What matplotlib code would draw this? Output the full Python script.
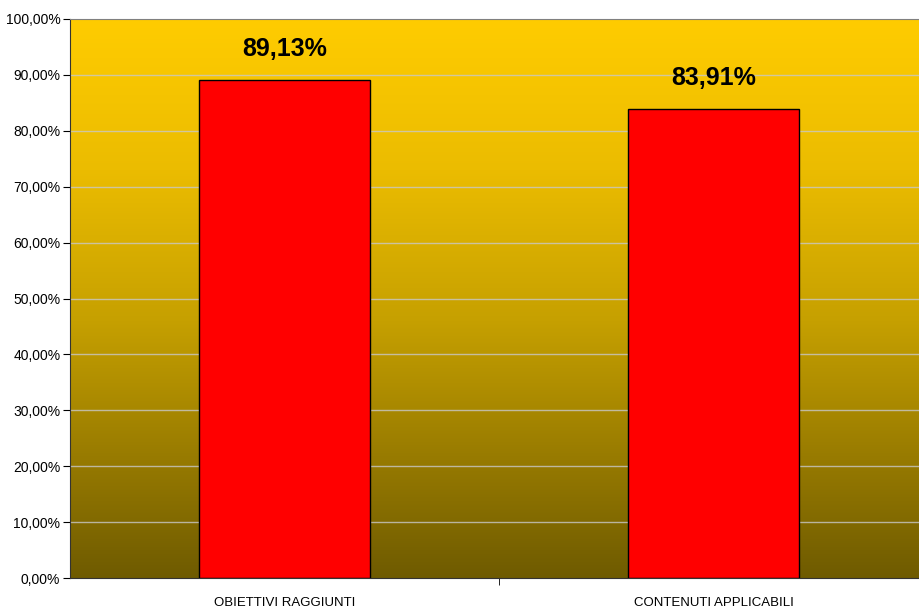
import numpy as np
import matplotlib.pyplot as plt
from matplotlib.colors import LinearSegmentedColormap

# chart data
categories = ['OBIETTIVI RAGGIUNTI', 'CONTENUTI APPLICABILI']
values = [89.13, 83.91]
yticks = [0, 10, 20, 30, 40, 50, 60, 70, 80, 90, 100]

plt.rcParams['font.family'] = ['Liberation Sans', 'DejaVu Sans']

fig = plt.figure(figsize=(9.2, 6.1), dpi=100)
ax = fig.add_axes([70 / 920, 32 / 610, 858 / 920, 559 / 610])

x = np.arange(len(categories))
ax.set_xlim(-0.5, len(categories) - 0.5)
ax.set_ylim(0, 100)

# yellow -> dark olive gradient background
cmap = LinearSegmentedColormap.from_list(
    'bg', [(0, '#6f5b00'), (0.19, '#937700'), (0.46, '#c6a000'),
           (0.73, '#ebbc00'), (1, '#ffcc00')])
grad = np.linspace(0, 1, 256).reshape(-1, 1)
ax.imshow(grad, cmap=cmap, aspect='auto', origin='lower',
          extent=[-0.5, len(categories) - 0.5, 0, 100], zorder=0)

for t in yticks[1:-1]:
    ax.axhline(t, color='#c8c8c8', lw=1, alpha=0.8, zorder=1)

ax.bar(x, values, width=0.4, color='#ff0000', edgecolor='black', lw=1, zorder=2)

for xi, v in zip(x, values):
    ax.annotate(f'{v:.2f}%'.replace('.', ','), (xi, v), xytext=(0, 31),
                textcoords='offset pixels', ha='center', va='center',
                fontsize=18, fontweight='bold', zorder=3)

ax.set_yticks(yticks)
ax.set_yticklabels([f'{t:.2f}%'.replace('.', ',') for t in yticks], fontsize=10)
ax.set_xticks(x)
ax.set_xticklabels(categories, fontsize=9.5)
ax.set_xticks([0.5], minor=True)
ax.tick_params(axis='x', which='major', length=0, pad=14)
ax.tick_params(axis='x', which='minor', length=5, direction='out')
ax.tick_params(axis='y', length=5, direction='out', pad=2)

for s in ['left', 'bottom']:
    ax.spines[s].set_color('#333333')
ax.spines['top'].set_color('#808080')
ax.spines['right'].set_visible(False)

fig.savefig('out.png', dpi=100)
